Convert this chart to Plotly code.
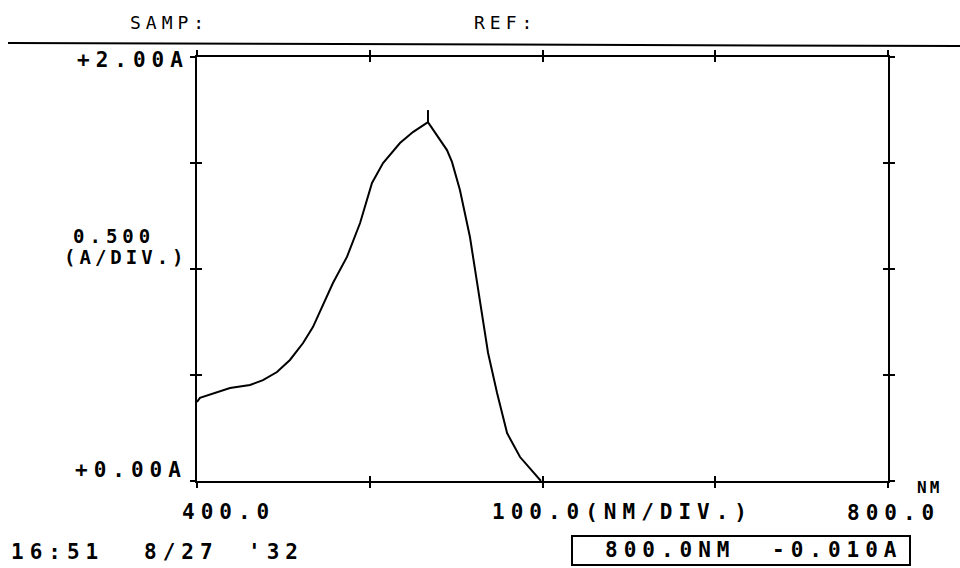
import plotly.graph_objects as go

# ---- data ----
wavelength_nm = [400.0, 401.7, 419.1, 430.7, 438.2, 446.3, 453.8, 461.4, 467.1, 472.9,
                 478.7, 486.8, 494.4, 501.3, 507.7, 517.5, 525.0, 533.7, 544.7, 547.6,
                 552.2, 558.0, 563.8, 568.5, 573.7, 579.5, 587.0, 597.4, 599.1]
absorbance = [0.373, 0.392, 0.439, 0.453, 0.476, 0.514, 0.571, 0.651, 0.726, 0.830,
              0.934, 1.057, 1.217, 1.406, 1.500, 1.594, 1.646, 1.693, 1.561, 1.505,
              1.373, 1.151, 0.840, 0.604, 0.415, 0.226, 0.113, 0.014, 0.0]
peak_nm = [533.7]
peak_mark_A = [1.72]

x_ticks = [400, 500, 600, 700, 800]
y_ticks = [0.0, 0.5, 1.0, 1.5, 2.0]

# ---- layout geometry (pixels) ----
W, H = 960, 568
L, R, T, B = 197, 888, 57, 481


def PX(x):
    return (x - L) / (R - L)


def PY(y):
    return (B - y) / (B - T)


MONO = "DejaVu Sans Mono"

fig = go.Figure()
fig.add_trace(go.Scatter(x=wavelength_nm, y=absorbance, mode="lines",
                         line=dict(color="black", width=2), showlegend=False,
                         hoverinfo="skip"))
fig.add_trace(go.Scatter(x=peak_nm, y=peak_mark_A, mode="markers", xaxis="x2", yaxis="y2",
                         marker=dict(symbol="line-ns", size=9,
                                     line=dict(color="black", width=2)),
                         showlegend=False, hoverinfo="skip"))

axis_common = dict(showgrid=False, zeroline=False, showticklabels=False)
fig.update_layout(
    width=W, height=H,
    margin=dict(l=L, r=W - R, t=T, b=H - B, pad=0),
    paper_bgcolor="white", plot_bgcolor="white",
    xaxis=dict(range=[400, 800], tickvals=x_ticks, ticks="outside", ticklen=5,
               tickwidth=2, tickcolor="black", showline=True, linewidth=2,
               linecolor="black", mirror="allticks", **axis_common),
    yaxis=dict(range=[0, 2], tickvals=y_ticks, ticks="outside", ticklen=5,
               tickwidth=2, tickcolor="black", showline=True, linewidth=2,
               linecolor="black", mirror="allticks", **axis_common),
    xaxis2=dict(range=[400, 800], tickvals=x_ticks, ticks="inside", ticklen=5,
                tickwidth=2, tickcolor="black", showline=False, mirror="allticks",
                overlaying="x", **axis_common),
    yaxis2=dict(range=[0, 2], tickvals=y_ticks, ticks="inside", ticklen=5,
                tickwidth=2, tickcolor="black", showline=False, mirror="allticks",
                overlaying="y", **axis_common),
)

# (text, x px, y px, anchor, size, letter spacing, bold)
texts = [
    ("SAMP:", 128, 22, "left", 18, 5, False),
    ("REF:", 472, 22, "left", 18, 5, False),
    ("+2.00A", 191, 60, "right", 21, 6, True),
    ("0.500", 114, 236, "center", 19, 5, True),
    ("(A/DIV.)", 126, 257, "center", 19, 4, True),
    ("+0.00A", 189, 470, "right", 21, 6, True),
    ("400.0", 228, 512, "center", 21, 6, True),
    ("100.0(NM/DIV.)", 622, 512, "center", 21, 6, True),
    ("NM", 929, 487, "center", 16, 3, True),
    ("800.0", 893, 513, "center", 21, 6, True),
    ("16:51", 9, 552, "left", 21, 6, True),
    ("8/27", 142, 552, "left", 21, 6, True),
    ("'32", 246, 552, "left", 21, 6, True),
    ("800.0NM", 603, 550, "left", 21, 6, True),
    ("-0.010A", 770, 550, "left", 21, 6, True),
]
for t, x, y, anchor, size, sp, bold in texts:
    fig.add_annotation(text=f'<span style="letter-spacing:{sp}px">{t}</span>',
                       x=PX(x), y=PY(y), xref="paper", yref="paper",
                       xanchor=anchor, yanchor="middle", showarrow=False,
                       font=dict(family=MONO, size=size, color="black",
                                 weight="bold" if bold else "normal"))

# header rule and readout box
fig.add_shape(type="line", xref="paper", yref="paper", x0=PX(8), x1=PX(960),
              y0=PY(43), y1=PY(46), line=dict(color="black", width=2))
fig.add_shape(type="rect", xref="paper", yref="paper", x0=PX(572), x1=PX(910),
              y0=PY(565), y1=PY(536), line=dict(color="black", width=2))

fig.write_html("out.html")
